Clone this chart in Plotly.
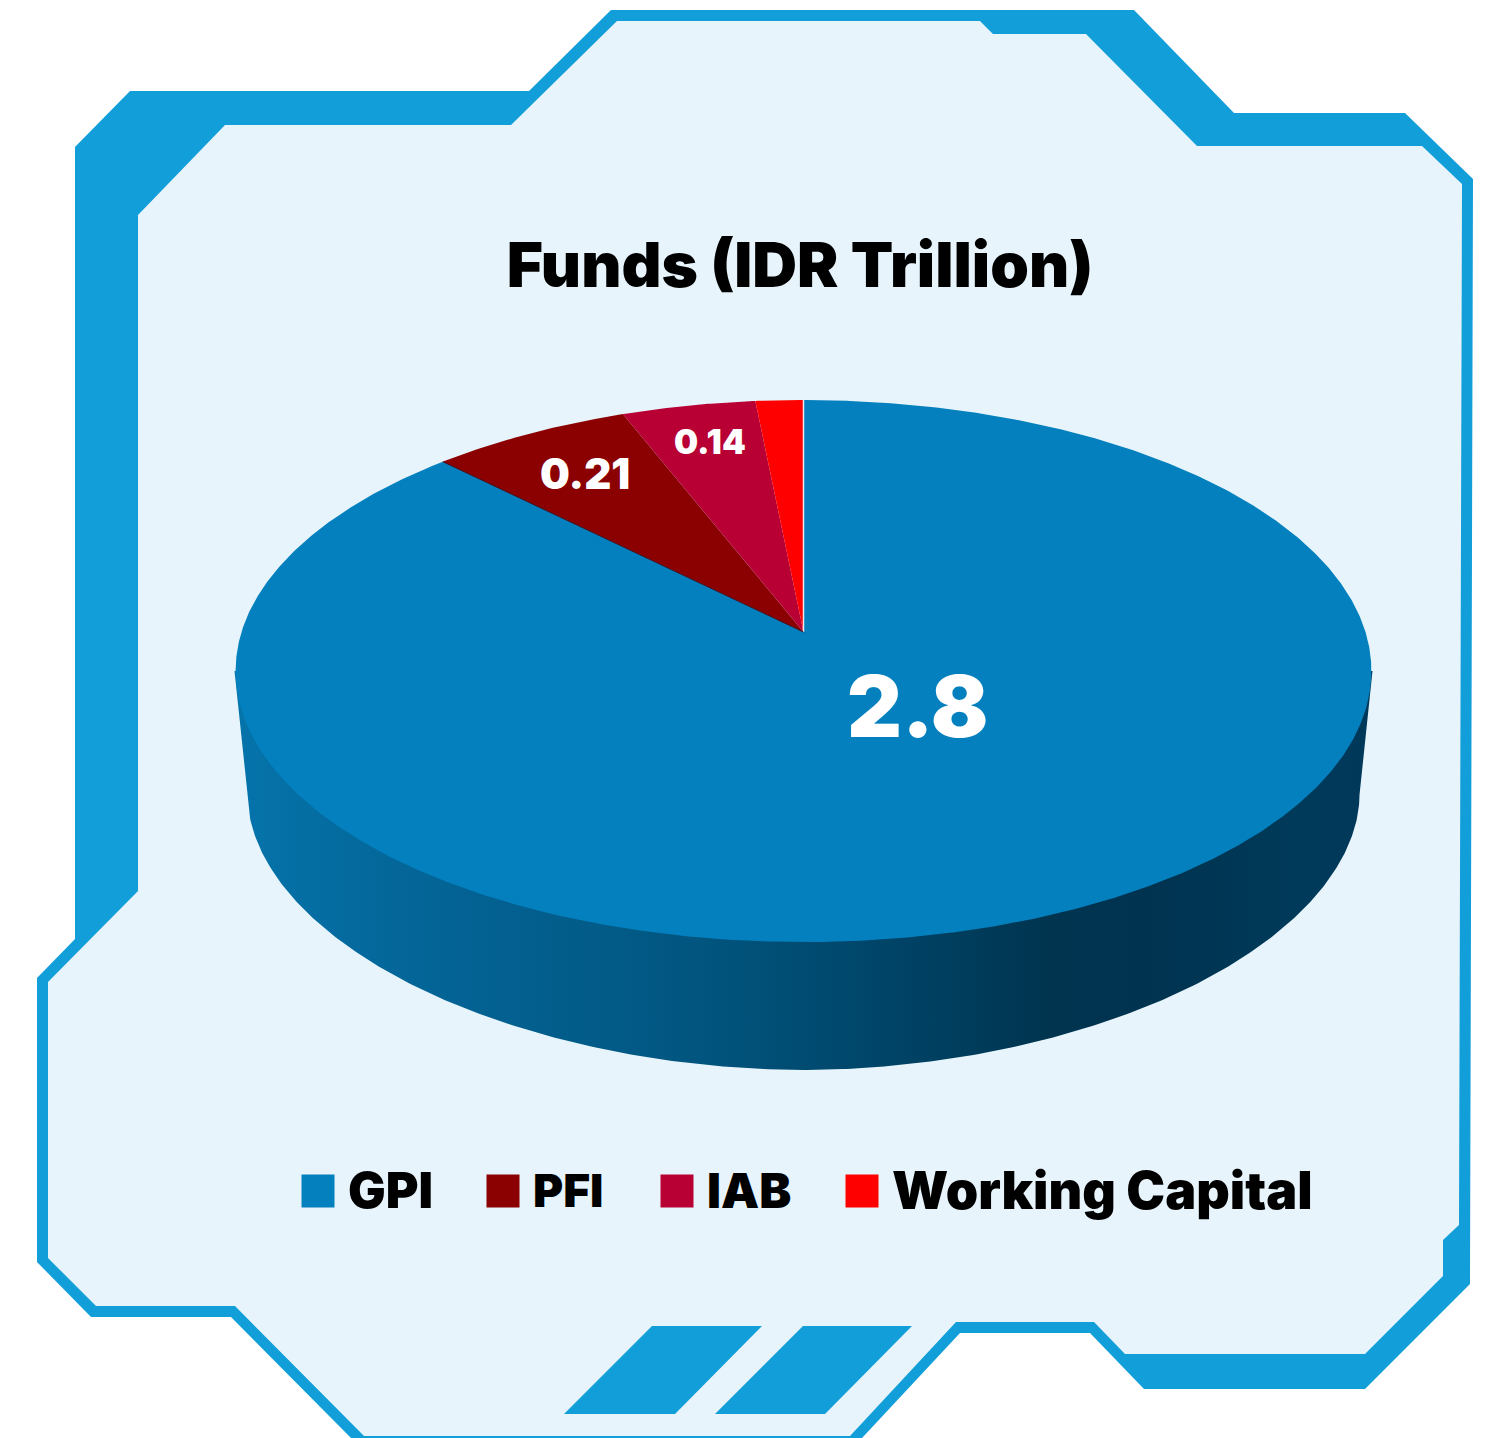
import numpy as np
import plotly.graph_objects as go

# ---- data ----
categories = ["GPI", "PFI", "IAB", "Working Capital"]
values = [2.8, 0.21, 0.14, 0.05]
value_labels = ["2.8", "0.21", "0.14", ""]
colors = ["#0480BE", "#8B0000", "#B80035", "#FF0000"]
title_text = "Funds (IDR Trillion)"

# ---- scene geometry (pixel-mapped axes) ----
W, H = 1492, 1438
FONT = "Inter"
CX, APEX_Y = 803.5, 632.0
TOP_R, BOT_R = 232.0, 310.0          # apex to far / near rim
PERSP = (BOT_R - TOP_R) / (BOT_R + TOP_R)
A = TOP_R * (1 + PERSP)
D = 562.0

outer = [(75,147),(130,91),(529,91),(611,10),(1134,10),(1234,113),(1405,113),(1473,179),
         (1470,1284),(1365,1389),(1144,1389),(1090,1333),(960,1333),(862,1438),(351,1438),
         (231,1317),(91,1317),(37,1262),(37,978),(75,939)]
inner = [(138,215),(225,125),(511,125),(617,21),(980,21),(993,34),(1086,34),(1197,146),
         (1422,146),(1462,184),(1459,1225),(1443,1240),(1443,1276),(1365,1354),(1125,1354),
         (1094,1322),(956,1322),(850,1436),(364,1436),(235,1306),(96,1306),(48,1258),
         (48,982),(138,891)]
stripes = [[(652,1326),(762,1326),(675,1414),(564,1414)],
           [(803,1326),(912,1326),(825,1414),(715,1414)]]


def rim(theta):
    return (CX + D * np.sin(theta) / (1 + PERSP * np.cos(theta)),
            APEX_Y - A * np.cos(theta) / (1 + PERSP * np.cos(theta)))


def poly(pts):
    return "M" + "L".join(f"{x},{y}" for x, y in pts) + "Z"


fig = go.Figure()

# side wall
t = np.linspace(0, np.pi, 361)
n = 1.92
lx = CX - 556 * np.sign(np.cos(t)) * np.abs(np.cos(t)) ** (2 / n)
ly = 795 + 275 * np.abs(np.sin(t)) ** (2 / n)
wall_x = [CX - 569] + list(lx) + [CX + 569]
wall_y = [671] + list(ly) + [671]
fig.add_trace(go.Scatter(
    x=wall_x, y=wall_y, mode="lines", fill="toself", line=dict(width=0),
    fillgradient=dict(type="horizontal", colorscale=[
        [0.0, "#0574AB"], [0.146, "#046699"], [0.41, "#01557F"], [0.585, "#004366"],
        [0.717, "#00344F"], [0.8, "#003350"], [0.937, "#003A5A"], [1.0, "#00385A"]]),
    hoverinfo="skip", showlegend=False))

# top face: slices computed from the values
fractions = np.array(values) / sum(values)
edges = np.concatenate([[0], np.cumsum(fractions)]) * 2 * np.pi
for name, c, a0, a1 in zip(categories, colors, edges[:-1], edges[1:]):
    th = np.linspace(a0, a1, max(3, int((a1 - a0) * 180)))
    rx, ry = rim(th)
    fig.add_trace(go.Scatter(
        x=[CX] + list(rx) + [CX], y=[APEX_Y] + list(ry) + [APEX_Y],
        mode="lines", fill="toself", fillcolor=c, line=dict(width=0, color=c),
        name=name, showlegend=False, hoverinfo="name"))

# seams
x0, y0 = rim(edges[0])
fig.add_trace(go.Scatter(x=[CX, x0], y=[APEX_Y, y0], mode="lines",
                         line=dict(color="#F2E4EA", width=1.5), hoverinfo="skip", showlegend=False))
x1, y1 = rim(edges[1])
fig.add_trace(go.Scatter(x=[CX, x1], y=[APEX_Y, y1], mode="lines",
                         line=dict(color="#3A1020", width=1), hoverinfo="skip", showlegend=False))

# legend
leg_marker_x = [318, 503, 677, 862]
leg_text_x = [346, 531, 705, 890]
leg_font_size = [50, 46, 48, 52]
LEG_Y = 1191
for name, c, mx in zip(categories, colors, leg_marker_x):
    fig.add_trace(go.Scatter(x=[mx], y=[LEG_Y], mode="markers",
                             marker=dict(symbol="square", size=33, color=c, line=dict(width=0)),
                             name=name, showlegend=False, hoverinfo="name"))

annotations = []
for name, tx, fs in zip(categories, leg_text_x, leg_font_size):
    annotations.append(dict(x=tx, y=LEG_Y - 1, text=name, showarrow=False, xanchor="left", yanchor="middle",
                            font=dict(family=FONT, size=fs, color="#000000", weight=900)))
label_pos = [(918, 706, 85), (585, 473, 42), (710, 441, 34)]
for txt, (lx_, ly_, fs) in zip(value_labels, label_pos):
    annotations.append(dict(x=lx_, y=ly_, text=txt, showarrow=False,
                            font=dict(family=FONT, size=fs, color="#FFFFFF", weight=900)))

shapes = [dict(type="path", path=poly(outer), fillcolor="#119ED9", line=dict(width=0), layer="below"),
          dict(type="path", path=poly(inner), fillcolor="#E7F4FB", line=dict(width=0), layer="below")]
for s in stripes:
    shapes.append(dict(type="path", path=poly(s), fillcolor="#119ED9", line=dict(width=0), layer="below"))

fig.update_layout(
    width=W, height=H, margin=dict(l=0, r=0, t=0, b=0),
    paper_bgcolor="#FFFFFF", plot_bgcolor="rgba(0,0,0,0)",
    xaxis=dict(range=[0, W], visible=False, fixedrange=True),
    yaxis=dict(range=[H, 0], visible=False, fixedrange=True),
    title=dict(text=title_text, x=800 / W, xanchor="center", y=1 - 265 / H, yanchor="middle",
               font=dict(family=FONT, size=62, color="#000000", weight=900)),
    shapes=shapes, annotations=annotations, showlegend=False,
)
fig.write_html("out.html", config={"displayModeBar": False},
               post_script="document.body.style.margin='0';document.documentElement.style.overflow='hidden';")
